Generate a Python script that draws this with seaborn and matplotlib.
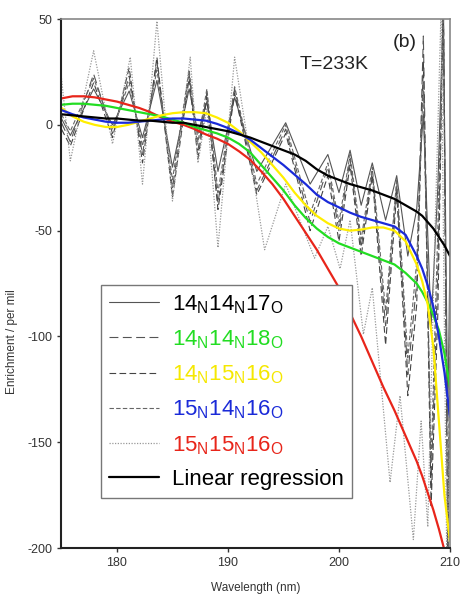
import matplotlib
matplotlib.use("Agg")
import matplotlib.pyplot as plt
import seaborn as sns

# fitted curves (wavelength grid shared by the smooth lines)
wl_fit = [175, 176, 177, 178, 179, 180, 181, 182, 183, 184, 185, 186, 187, 188, 189,
          190, 191, 192, 193, 194, 195, 196, 197, 198, 199, 200, 201, 202, 203, 204,
          205, 206, 207, 207.5, 208, 208.5, 209, 209.5, 210]
fit_red = [12.5, 13.5, 13.5, 13, 12, 11, 9.5, 8, 6, 3.5, 1.5, 0, -2, -4.5, -6.5,
           -9, -12.5, -16.5, -22, -28, -35, -43, -51, -59, -68, -77, -89, -100, -112, -124,
           -135, -147, -159, -166, -174, -182, -191, -201, -211]
fit_green = [9.5, 10, 10, 9.5, 9, 8, 7, 6, 5, 4, 2.5, 1, -1, -2.5, -4,
             -6, -9, -13, -19, -25, -31, -38, -44, -49, -53, -56, -58, -60, -62, -64,
             -66, -70, -75, -79, -84, -90, -97, -108, -124]
fit_yellow = [8, 4, 1.5, 0, -1, -1, 0, 1.5, 3, 4.5, 5.5, 6, 6, 5.5, 3.5,
              1, -3, -8, -13, -19, -25, -32, -38, -43, -46.5, -49, -50, -49.5, -48.5, -48.5,
              -50, -55, -66, -74, -85, -105, -140, -175, -197]
fit_blue = [7, 5, 3.5, 2.5, 1.5, 1, 1, 1.5, 2, 2.5, 3, 3, 2.5, 2, 0.5,
            -1.5, -4, -7, -11, -15, -19, -23.5, -28, -33, -36.5, -39, -41.5, -43.5, -45, -46.5,
            -48, -52, -62, -68, -76, -86, -100, -117, -138]
fit_black = [5, 4.5, 4, 3.5, 3, 3, 2.5, 2, 2, 1.5, 1, 1, 0, -1, -2,
             -3, -4.5, -6, -8, -10, -12, -14, -17, -21, -24, -26, -28, -29.5, -31, -33,
             -35, -38, -41, -43, -46, -49, -53, -57, -62]

# measured enrichment (turning points of the spectra)
wl_meas = [175, 175.8, 177.9, 179.6, 181.1, 182.3, 183.6, 185.0, 186.5, 187.3, 188.1,
           189.1, 190.6, 192.6, 195.2, 197.4, 199.0, 200.0, 201.0, 202.0, 203.0, 204.2,
           205.2, 206.2, 207.0, 207.6, 208.3, 208.9, 209.4, 209.8, 210.0]
meas_1417 = [3, -5, 17, 0, 16, -6, 21, -20, 17, -4, 11, -22, 13, -22, 1, -28, -14, -32,
             -12, -38, -18, -45, -24, -62, -40, 5, -95, -30, 55, -140, -60]
meas_1418 = [1, -8, 24, -4, 23, -14, 30, -30, 24, -12, 15, -37, 17, -31, -2, -46, -20, -50,
             -16, -58, -22, -95, -28, -118, -75, 42, -170, -70, 60, -200, -110]
meas_1516 = [-2, -10, 20, -6, 27, -18, 32, -34, 22, -16, 13, -40, 15, -33, -4, -50, -24, -55,
             -19, -62, -24, -104, -32, -128, -85, 30, -180, -90, 60, -205, -130]
meas_5146 = [5, -3, 22, -2, 20, -10, 26, -26, 26, -8, 17, -32, 18, -28, 0, -42, -18, -46,
             -14, -54, -20, -88, -26, -110, -65, 20, -160, -50, 60, -190, -100]
wl_dot = [175, 175.8, 177.9, 179.6, 181.2, 182.3, 183.6, 185.0, 186.6, 187.3, 188.1,
          189.1, 190.6, 193.3, 195.2, 197.8, 199.0, 200.1, 201.0, 202.2, 203.0, 204.6,
          205.5, 206.7, 207.4, 208.0, 208.6, 209.2, 209.7, 210.0]
meas_5516 = [22, -17, 35, -9, 32, -28, 49, -36, 32, -18, 8, -58, 32, -59, -28, -63, -48,
             -68, -45, -99, -77, -169, -128, -196, -140, -190, -60, 55, -200, -150]

labels = [r'$\mathregular{14_N14_N17_O}$', r'$\mathregular{14_N14_N18_O}$',
          r'$\mathregular{14_N15_N16_O}$', r'$\mathregular{15_N14_N16_O}$',
          r'$\mathregular{15_N15_N16_O}$', 'Linear regression']
label_colors = ['black', '#22dd22', '#f5e800', '#1a2ad8', '#e8251a', 'black']

sns.set_style("ticks")
plt.rcParams['font.family'] = ['Liberation Sans', 'DejaVu Sans']
plt.rcParams['axes.unicode_minus'] = False

fig = plt.figure(figsize=(4.62, 5.96), dpi=100)
ax = fig.add_axes([0.133, 0.0805, 0.841, 0.8875])

# noisy measured lines
sns.lineplot(x=wl_meas, y=meas_1417, ax=ax, color='#555555', lw=0.8,
             linestyle='-', label=labels[0], sort=False, estimator=None)
sns.lineplot(x=wl_meas, y=meas_1418, ax=ax, color='#555555', lw=0.8,
             linestyle=(0, (8, 4)), label=labels[1], sort=False, estimator=None)
sns.lineplot(x=wl_meas, y=meas_1516, ax=ax, color='#444444', lw=0.8,
             linestyle=(0, (6, 3)), label=labels[2], sort=False, estimator=None)
sns.lineplot(x=wl_meas, y=meas_5146, ax=ax, color='#666666', lw=0.8,
             linestyle=(0, (4, 2)), label=labels[3], sort=False, estimator=None)
sns.lineplot(x=wl_dot, y=meas_5516, ax=ax, color='#999999', lw=0.9,
             linestyle=(0, (1, 1.2)), label=labels[4], sort=False, estimator=None)

# smooth fitted curves
sns.lineplot(x=wl_fit, y=fit_red, ax=ax, color='#e8251a', lw=1.6, sort=False, estimator=None)
sns.lineplot(x=wl_fit, y=fit_green, ax=ax, color='#22dd22', lw=1.6, sort=False, estimator=None)
sns.lineplot(x=wl_fit, y=fit_yellow, ax=ax, color='#ffee00', lw=1.6, sort=False, estimator=None)
sns.lineplot(x=wl_fit, y=fit_blue, ax=ax, color='#1a2ad8', lw=1.6, sort=False, estimator=None)
sns.lineplot(x=wl_fit, y=fit_black, ax=ax, color='black', lw=1.6,
             label=labels[5], sort=False, estimator=None)

ax.set_xlim(175, 210)
ax.set_ylim(-200, 50)
ax.set_xticks([180, 190, 200, 210])
ax.set_yticks([-200, -150, -100, -50, 0, 50])
ax.tick_params(labelsize=9, labelcolor='#333333', length=3, width=1, color='#333333')

for s in ['left', 'bottom']:
    ax.spines[s].set_color('#222222')
    ax.spines[s].set_linewidth(1.5)
for s in ['top', 'right']:
    ax.spines[s].set_color('#888888')
    ax.spines[s].set_linewidth(1.2)

ax.set_xlabel('Wavelength (nm)', fontsize=8.5, color='#333333')
ax.set_ylabel('Enrichment / per mil', fontsize=8.5, color='#333333')
ax.yaxis.set_label_coords(-0.112, 0.39)
ax.xaxis.set_label_coords(0.5, -0.065)

ax.text(199.6, 28.4, 'T=233K', fontsize=14, ha='center', va='center', color='#222222')
ax.text(205.9, 38.8, '(b)', fontsize=14, ha='center', va='center', color='#222222')

leg = ax.legend(loc='lower left', bbox_to_anchor=(0.102, 0.0945), fontsize=16,
                frameon=True, fancybox=False, framealpha=1, edgecolor='#777777',
                handlelength=2.25, handletextpad=0.6, labelspacing=0.57,
                borderpad=0.35, borderaxespad=0)
leg.get_frame().set_linewidth(1.0)
for txt, c in zip(leg.get_texts(), label_colors):
    txt.set_color(c)

fig.savefig('out.png', dpi=100)
